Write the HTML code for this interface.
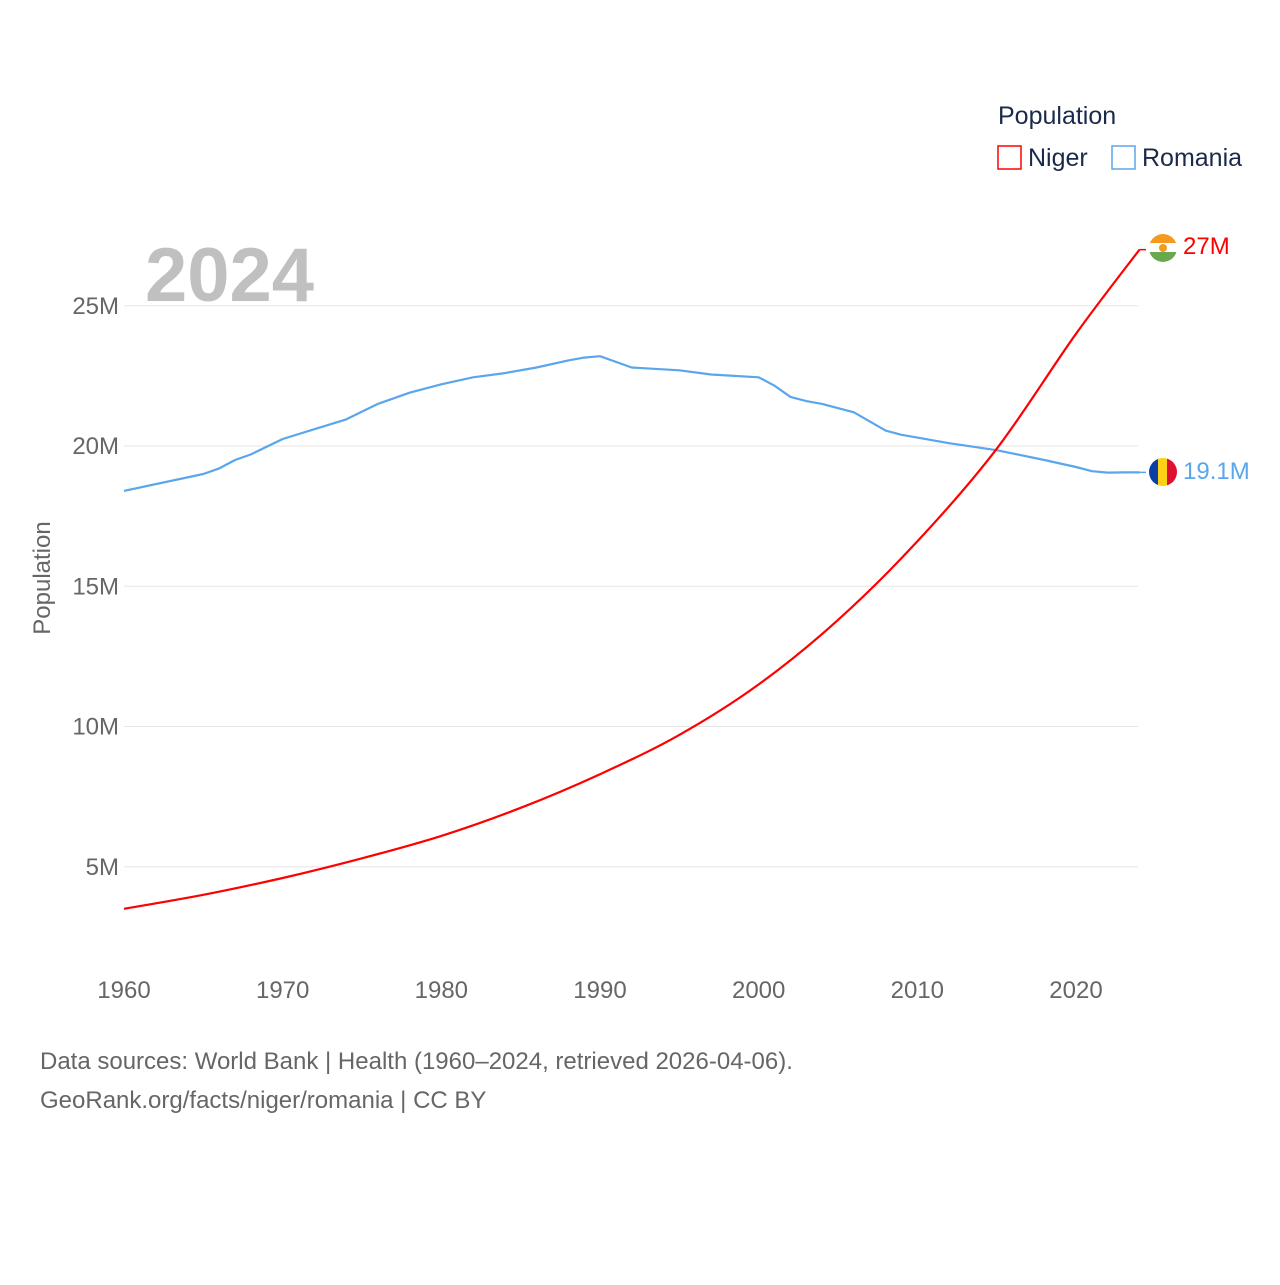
<!DOCTYPE html>
<html><head><meta charset="utf-8"><style>
body{margin:0;background:#fff;font-family:"Liberation Sans",sans-serif}
svg text{font-family:"Liberation Sans",sans-serif}
</style></head><body>
<svg width="1280" height="1280">
<text x="998" y="124" font-size="25" fill="#1a2a4a">Population</text>
<rect x="998" y="146" width="23" height="23" fill="none" stroke="#f00" stroke-width="1.5"/>
<text x="1028" y="166" font-size="25" fill="#1a2a4a">Niger</text>
<rect x="1112" y="146" width="23" height="23" fill="none" stroke="#5aa6ec" stroke-width="1.5"/>
<text x="1142" y="166" font-size="25" fill="#1a2a4a">Romania</text>
<text x="145" y="301" font-size="76" font-weight="bold" fill="#c0c0c0">2024</text>
<g id="grid"></g><g id="lines"></g>
<text transform="translate(50,578) rotate(-90)" text-anchor="middle" font-size="24" fill="#666">Population</text>
<g>
<clipPath id="nc"><circle cx="1163" cy="248" r="14"/></clipPath>
<g clip-path="url(#nc)"><rect x="1149" y="234" width="28" height="10" fill="#f39a1f"/><rect x="1149" y="243" width="28" height="10" fill="#fff"/><rect x="1149" y="252" width="28" height="10" fill="#6aa84f"/><circle cx="1163" cy="248" r="4" fill="#f39a1f"/></g></g>
<g>
<clipPath id="rc"><circle cx="1163" cy="472" r="14"/></clipPath>
<g clip-path="url(#rc)"><rect x="1149" y="458" width="10" height="28" fill="#0b3fa8"/><rect x="1158" y="458" width="10" height="28" fill="#fcd116"/><rect x="1167" y="458" width="10" height="28" fill="#e01030"/></g></g>
<text x="1183" y="254" font-size="24" fill="#f00">27M</text>
<text x="1183" y="479" font-size="24" fill="#5aa6ec">19.1M</text>
<text x="40" y="1069" font-size="24" fill="#666">Data sources: World Bank | Health (1960–2024, retrieved 2026-04-06).</text>
<text x="40" y="1108" font-size="24" fill="#666">GeoRank.org/facts/niger/romania | CC BY</text>
</svg>
<script>
const yTicks=[5,10,15,20,25];
const xTicks=[1960,1970,1980,1990,2000,2010,2020];
const nigerYears=[1960,1965,1970,1975,1980,1985,1990,1995,2000,2005,2010,2015,2020,2024];
const nigerVals=[3.5,4.0,4.6,5.3,6.1,7.1,8.3,9.7,11.5,13.8,16.6,19.9,24.0,27.0];
const romYears=[1960,1965,1966,1967,1968,1970,1972,1974,1976,1978,1980,1982,1984,1986,1988,1989,1990,1992,1995,1997,2000,2001,2002,2003,2004,2006,2008,2009,2010,2012,2015,2018,2020,2021,2022,2023,2024];
const romVals=[18.4,19.0,19.2,19.5,19.7,20.25,20.6,20.95,21.5,21.9,22.2,22.45,22.6,22.8,23.05,23.15,23.2,22.8,22.7,22.55,22.45,22.15,21.75,21.6,21.5,21.2,20.55,20.4,20.3,20.1,19.85,19.5,19.25,19.1,19.05,19.06,19.06];
const NS="http://www.w3.org/2000/svg";
const X=y=>124+(y-1960)*952/60;
const Y=v=>1007-v*28.05;
const g=document.getElementById('grid'),l=document.getElementById('lines');
function mk(t,a,p){const e=document.createElementNS(NS,t);for(const k in a)e.setAttribute(k,a[k]);p.appendChild(e);return e;}
yTicks.forEach(v=>{
 const ln=mk('line',{x1:124,x2:1138,y1:Y(v),y2:Y(v),stroke:'#e6e6e6'},g);
 
 
 const t=mk('text',{x:119,y:Y(v)+8,'text-anchor':'end','font-size':24,fill:'#666'},g);t.textContent=v+'M';
 
 
});
xTicks.forEach(v=>{
 const t=mk('text',{x:X(v),y:998,'text-anchor':'middle','font-size':24,fill:'#666'},g);t.textContent=v;
 
 
});
function linear(ys,vs){return ys.map((y,i)=>(i?'L':'M')+X(y).toFixed(1)+','+Y(vs[i]).toFixed(1)).join(' ');}
function smooth(ys,vs){
 const P=ys.map((y,i)=>[X(y),Y(vs[i])]);
 let d='M'+P[0][0].toFixed(1)+','+P[0][1].toFixed(1);
 for(let i=0;i<P.length-1;i++){
  const p0=P[Math.max(0,i-1)],p1=P[i],p2=P[i+1],p3=P[Math.min(P.length-1,i+2)];
  const c1=[p1[0]+(p2[0]-p0[0])/6,p1[1]+(p2[1]-p0[1])/6];
  const c2=[p2[0]-(p3[0]-p1[0])/6,p2[1]-(p3[1]-p1[1])/6];
  d+=' C'+c1.map(n=>n.toFixed(1)).join(',')+' '+c2.map(n=>n.toFixed(1)).join(',')+' '+p2.map(n=>n.toFixed(1)).join(',');
 }
 return d;
}
const rp=mk('path',{d:linear(romYears,romVals),fill:'none',stroke:'#5aa6ec','stroke-width':2.2,'stroke-linejoin':'round'},l);


const np=mk('path',{d:smooth(nigerYears,nigerVals),fill:'none',stroke:'#f00','stroke-width':2.2},l);


mk('line',{x1:X(2024),x2:1146,y1:Y(27),y2:Y(27),stroke:'#f00','stroke-width':1.5},l);
mk('line',{x1:X(2024),x2:1146,y1:Y(19.06),y2:Y(19.06),stroke:'#5aa6ec','stroke-width':1.5},l);
</script>
</body></html>
